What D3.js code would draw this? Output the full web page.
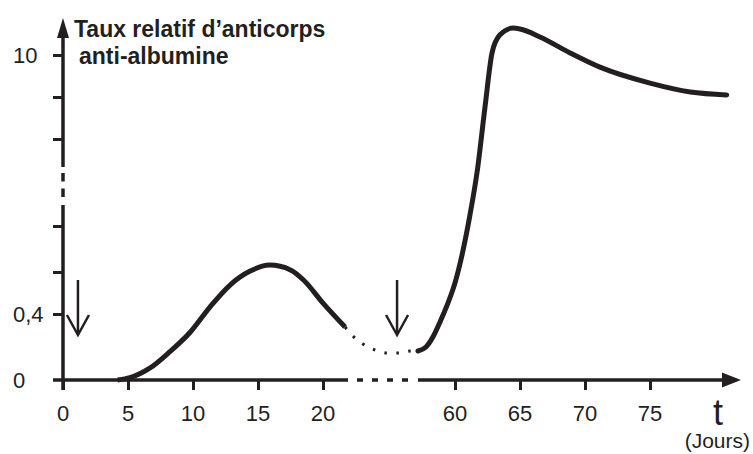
<!DOCTYPE html>
<html>
<head>
<meta charset="utf-8">
<script src="https://cdn.jsdelivr.net/npm/d3@7/dist/d3.min.js"></script>
<style>
  body { margin: 0; background: #fff; }
  svg { display: block; font-family: "Liberation Sans", Arial, sans-serif; }
</style>
</head>
<body>
<svg width="753" height="454"></svg>
<script>
// time (days) and relative anti-albumin antibody level
var primaryDays   = [4.2, 5.15, 6.7, 8.2, 9.8, 11.3, 12.85, 14.4, 15.9, 17.5, 18.5, 20, 21.7];
var primaryRates  = [0, 0.014, 0.073, 0.17, 0.291, 0.433, 0.538, 0.604, 0.630, 0.609, 0.562, 0.452, 0.321];

var gapDays  = [21.7, 24.6, 29.3, 35.6, 41.9, 48.1, 54.4, 57.15];
var gapRates = [0.321, 0.26, 0.218, 0.182, 0.164, 0.164, 0.176, 0.176];

var secondaryDays  = [57.15, 57.77, 58.3, 58.85, 59.4, 60, 60.54, 61.15, 61.7, 62.3, 62.85, 63.46, 64.46, 65, 66.54, 68.85, 71.15, 75, 78.1, 80.9];
var secondaryRates = [0.176, 0.2, 0.26, 0.352, 0.443, 0.548, 0.674, 0.848, 5.85, 8.74, 10.05, 10.48, 10.64, 10.62, 10.43, 10.05, 9.71, 9.33, 9.12, 9.05];

// albumin injections (arrows)
var injections = [1.15, 47.1];

var xTicks = [0, 5, 10, 15, 20, 60, 65, 70, 75];
var xTickLabels = ["0", "5", "10", "15", "20", "60", "65", "70", "75"];
var yTicks = [0.4, 0.6, 0.8, 8, 9, 10];
var yLabelValues = [0, 0.4, 10];
var yLabels = ["0", "0,4", "10"];

var ink = "#231f20";
var svg = d3.select("svg");

// broken axes: piecewise scales
var x = d3.scaleLinear()
    .domain([0, 22, 57, 80])
    .range([63, 349, 416, 715]);

var y = d3.scaleLinear()
    .domain([0, 0.4, 0.6, 0.8, 0.9, 7.45, 8, 10])
    .range([380, 314, 272, 226, 203, 162, 139, 55]);

var line = d3.line()
    .curve(d3.curveMonotoneX)
    .x(function(d) { return x(d[0]); })
    .y(function(d) { return y(d[1]); });

function pairs(a, b) { return a.map(function(v, i) { return [v, b[i]]; }); }

// axes
var axes = svg.append("g").attr("stroke", ink).attr("fill", "none");

// y axis
axes.append("line").attr("x1", 63).attr("x2", 63).attr("y1", 390).attr("y2", 205).attr("stroke-width", 3.5);
axes.append("line").attr("x1", 63).attr("x2", 63).attr("y1", 197).attr("y2", 172)
    .attr("stroke-width", 3.5).attr("stroke-dasharray", "8.5 7");
axes.append("line").attr("x1", 63).attr("x2", 63).attr("y1", 167).attr("y2", 34).attr("stroke-width", 3.5);
svg.append("path").attr("d", "M63,18L57,38L69,38Z").attr("fill", ink);

// x axis
axes.append("line").attr("x1", 53).attr("x2", 348).attr("y1", 380).attr("y2", 380).attr("stroke-width", 3.5);
axes.append("line").attr("x1", 357).attr("x2", 410).attr("y1", 380).attr("y2", 380)
    .attr("stroke-width", 3.5).attr("stroke-dasharray", "6 9");
axes.append("line").attr("x1", 418).attr("x2", 726).attr("y1", 380).attr("y2", 380).attr("stroke-width", 3.5);
svg.append("path").attr("d", "M741,380L722,372.5L722,387.5Z").attr("fill", ink);

// ticks
var xAxis = d3.axisBottom(x).tickValues(xTicks).tickSize(10).tickFormat("");
var gx = svg.append("g").attr("transform", "translate(0,380)").call(xAxis);
gx.select(".domain").remove();
gx.selectAll(".tick line").attr("stroke", ink).attr("stroke-width", 3);

var yAxis = d3.axisLeft(y).tickValues(yTicks).tickSize(10).tickFormat("");
var gy = svg.append("g").attr("transform", "translate(63,0)").call(yAxis);
gy.select(".domain").remove();
gy.selectAll(".tick line").attr("stroke", ink).attr("stroke-width", 3);

// tick labels
svg.append("g").selectAll("text")
    .data(xTicks)
  .enter().append("text")
    .attr("x", function(d) { return x(d); })
    .attr("y", 421)
    .attr("text-anchor", "middle")
    .attr("font-size", 22)
    .attr("fill", ink)
    .text(function(d, i) { return xTickLabels[i]; });

svg.append("g").selectAll("text")
    .data(yLabelValues)
  .enter().append("text")
    .attr("x", 13)
    .attr("y", function(d) { return y(d); })
    .attr("dy", "0.35em")
    .attr("font-size", 22)
    .attr("fill", ink)
    .text(function(d, i) { return yLabels[i]; });

// axis titles
svg.append("text").attr("x", 74).attr("y", 37)
    .attr("font-size", 23).attr("font-weight", "bold").attr("fill", ink)
    .text("Taux relatif d\u2019anticorps");
svg.append("text").attr("x", 79).attr("y", 64)
    .attr("font-size", 23).attr("font-weight", "bold").attr("fill", ink)
    .text("anti-albumine");
svg.append("text").attr("x", 718).attr("y", 425).attr("text-anchor", "middle")
    .attr("font-size", 36).attr("fill", ink).text("t");
svg.append("text").attr("x", 750).attr("y", 448).attr("text-anchor", "end")
    .attr("font-size", 21).attr("fill", ink).text("(Jours)");

// curves
svg.append("path")
    .datum(pairs(primaryDays, primaryRates))
    .attr("fill", "none").attr("stroke", ink).attr("stroke-width", 5)
    .attr("d", line);

svg.append("path")
    .datum(pairs(gapDays, gapRates))
    .attr("fill", "none").attr("stroke", ink).attr("stroke-width", 3)
    .attr("stroke-dasharray", "2.5 9.5")
    .attr("d", line);

svg.append("path")
    .datum(pairs(secondaryDays, secondaryRates))
    .attr("fill", "none").attr("stroke", ink).attr("stroke-width", 5)
    .attr("stroke-linecap", "round")
    .attr("d", line);

// injection arrows
var arrows = svg.append("g").attr("stroke", ink).attr("fill", "none").attr("stroke-width", 2.5);
injections.forEach(function(d) {
  var cx = x(d);
  arrows.append("line").attr("x1", cx).attr("x2", cx).attr("y1", 280).attr("y2", 334);
  arrows.append("path").attr("d", "M" + (cx - 11) + ",315L" + cx + ",335L" + (cx + 11) + ",315");
});
</script>
</body>
</html>
